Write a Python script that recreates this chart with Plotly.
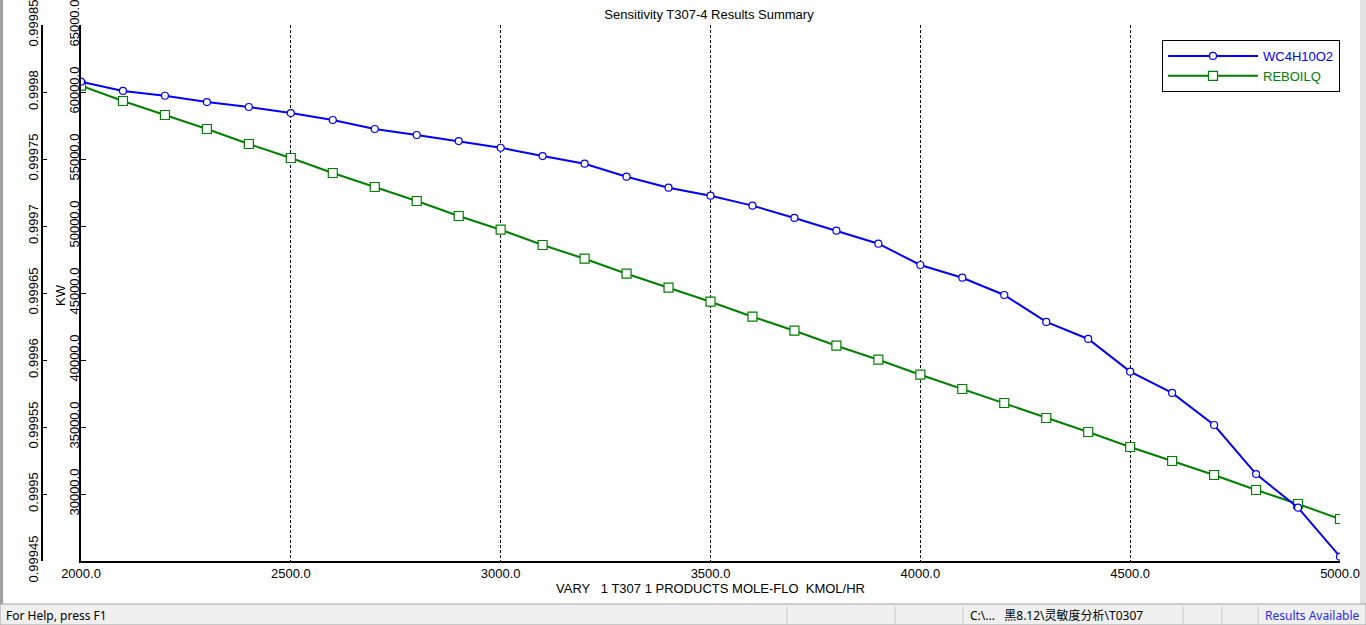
import plotly.graph_objects as go

W, H = 1366, 625

# sensitivity results T307-4
flow = [2000, 2100, 2200, 2300, 2400, 2500, 2600, 2700, 2800, 2900, 3000,
        3100, 3200, 3300, 3400, 3500, 3600, 3700, 3800, 3900, 4000,
        4100, 4200, 4300, 4400, 4500, 4600, 4700, 4800, 4900, 5000]

wc4h10o2 = [0.9998077, 0.9998008, 0.9997972, 0.9997925, 0.9997888, 0.9997843,
            0.9997791, 0.9997724, 0.9997679, 0.9997634, 0.9997584, 0.9997522,
            0.9997465, 0.9997368, 0.9997286, 0.9997226, 0.9997152, 0.9997060,
            0.9996965, 0.9996868, 0.9996709, 0.9996614, 0.9996485, 0.9996284,
            0.9996157, 0.9995913, 0.9995754, 0.9995515, 0.9995149, 0.9994898,
            0.9994532]

reboilq = [60470, 59328, 58284, 57239, 56119, 55075, 53955, 52910, 51866,
           50746, 49724, 48582, 47560, 46440, 45396, 44351, 43231, 42187,
           41067, 40022, 38903, 37836, 36791, 35672, 34627, 33507, 32463,
           31418, 30299, 29254, 28134]

x_ticks = [2000, 2500, 3000, 3500, 4000, 4500, 5000]
kw_ticks = [30000, 35000, 40000, 45000, 50000, 55000, 60000, 65000]
frac_ticks = [0.99945, 0.9995, 0.99955, 0.9996, 0.99965, 0.9997, 0.99975, 0.9998, 0.99985]
frac_labels = ["0.99945", "0.9995", "0.99955", "0.9996", "0.99965", "0.9997", "0.99975", "0.9998", "0.99985"]


def px(x):
    return x / W


def py(y):
    return 1 - y / H


FONT = "Liberation Sans, Arial, sans-serif"
UI_FONT = "Noto Sans, Noto Sans CJK SC, sans-serif"

fig = go.Figure()

fig.add_trace(go.Scatter(
    x=flow, y=wc4h10o2, yaxis="y2", mode="lines+markers",
    name='<span style="color:#0000ff">WC4H10O2</span>',
    line=dict(color="#0000ff", width=2),
    marker=dict(symbol="circle", size=7, color="white", line=dict(color="#0000ff", width=1.2)),
))
fig.add_trace(go.Scatter(
    x=flow, y=reboilq, yaxis="y", mode="lines+markers",
    name='<span style="color:#008000">REBOILQ</span>',
    line=dict(color="#008000", width=2),
    marker=dict(symbol="square", size=9, color="white", line=dict(color="#008000", width=1.2)),
))

fig.update_layout(
    width=W, height=H,
    margin=dict(l=0, r=0, t=0, b=0, autoexpand=False),
    paper_bgcolor="white", plot_bgcolor="white",
    font=dict(family=FONT, size=13, color="black"),
    showlegend=True,
    title=dict(text="Sensitivity T307-4 Results Summary", x=px(709), y=py(14),
               xanchor="center", yanchor="middle", font=dict(size=13)),
    xaxis=dict(
        domain=[px(81), px(1340)], range=[2000, 5000], automargin=False,
        tickvals=x_ticks, tickformat=".1f", ticks="", ticklabeloverflow="allow",
        showgrid=True, gridcolor="black", gridwidth=1, griddash="3px,2px",
        showline=True, linecolor="black", linewidth=1.5, zeroline=False,
        title=dict(text="VARY   1 T307 1 PRODUCTS MOLE-FLO  KMOL/HR", standoff=3,
                   font=dict(size=13)),
    ),
    yaxis=dict(
        domain=[py(561), py(25)], range=[25000, 65000], automargin=False,
        tickvals=kw_ticks, tickformat=".1f", tickangle=-90, ticklabelstandoff=-5,
        ticklabeloverflow="allow",
        ticks="inside", ticklen=5, tickcolor="black",
        showgrid=False, zeroline=False,
        showline=True, linecolor="black", linewidth=1.5,
    ),
    yaxis2=dict(
        overlaying="y", anchor="free", position=px(42), side="left",
        range=[0.99945, 0.99985], automargin=False,
        tickvals=frac_ticks, ticktext=frac_labels, tickangle=-90, ticklabelstandoff=-2,
        ticklabeloverflow="allow",
        ticks="inside", ticklen=4, tickcolor="black",
        showgrid=False, zeroline=False,
        showline=True, linecolor="black", linewidth=1.5,
    ),
    legend=dict(
        x=px(1340), y=py(40), xanchor="right", yanchor="top",
        bgcolor="white", bordercolor="black", borderwidth=1,
        font=dict(size=13), itemwidth=90, tracegroupgap=0,
    ),
)

# y axis title between the two axes
fig.add_annotation(text="KW", textangle=-90, x=px(60), y=py(295), xref="paper", yref="paper",
                   xanchor="center", yanchor="middle", showarrow=False, font=dict(size=13))

# window frame and status bar
shapes = [
    dict(type="rect", x0=0, x1=px(3), y0=py(604), y1=1, fillcolor="#a0a0a0", line_width=0),
    dict(type="rect", x0=px(1360), x1=1, y0=py(604), y1=1, fillcolor="#e3e3e3", line_width=0),
    dict(type="rect", x0=0, x1=1, y0=0, y1=py(604), fillcolor="#f0f0f0",
         line=dict(color="#a0a0a0", width=1)),
]
for sx in [787, 895, 963, 1183, 1222, 1258]:
    shapes.append(dict(type="line", x0=px(sx), x1=px(sx), y0=0, y1=py(606),
                       line=dict(color="#c8c8c8", width=1)))
for s in shapes:
    s.update(xref="paper", yref="paper", layer="above")
    fig.add_shape(**s)

fig.add_annotation(text="For Help, press F1", x=px(4), y=py(615), xref="paper", yref="paper",
                   xanchor="left", yanchor="middle", showarrow=False,
                   font=dict(family=UI_FONT, size=12))
fig.add_annotation(text="C:\\...   黑8.12\\灵敏度分析\\T0307", x=px(968), y=py(615),
                   xref="paper", yref="paper", xanchor="left", yanchor="middle", showarrow=False,
                   font=dict(family=UI_FONT, size=12))
fig.add_annotation(text="Results Available", x=px(1263), y=py(615), xref="paper", yref="paper",
                   xanchor="left", yanchor="middle", showarrow=False,
                   font=dict(family=UI_FONT, size=12, color="#2a2aff"))

# the page's default body margin would push the figure off by 8px
fig.write_html("out.html", config={"displayModeBar": False},
               post_script="document.body.style.margin='0';document.body.style.overflow='hidden';")
